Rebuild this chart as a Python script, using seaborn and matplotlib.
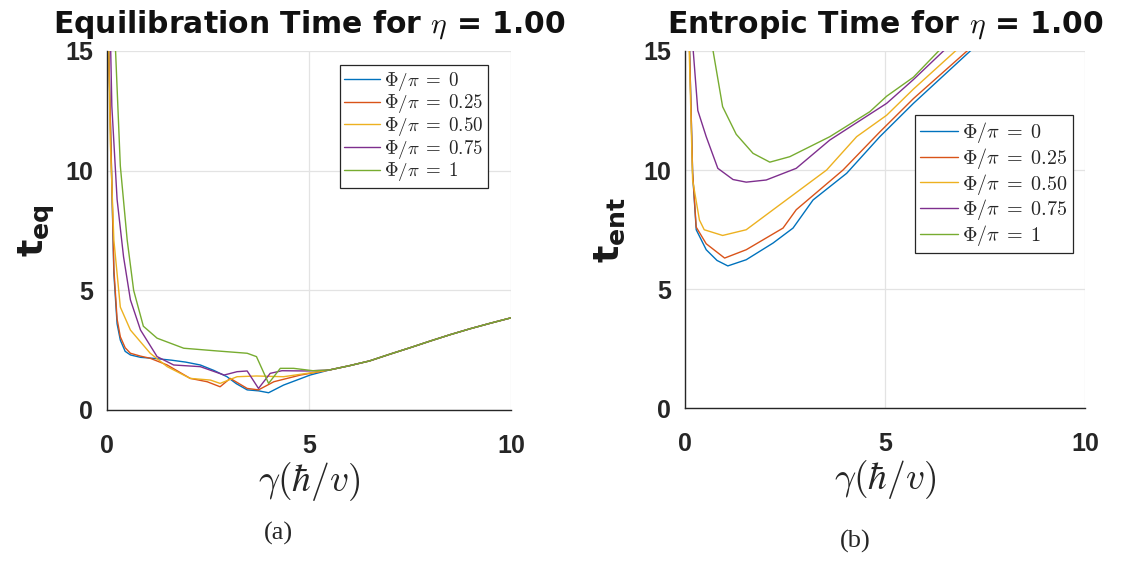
import numpy as np
import pandas as pd
import matplotlib
matplotlib.use("Agg")
import matplotlib.pyplot as plt
import seaborn as sns
from matplotlib.font_manager import FontProperties

# ---------------- data ----------------
labels = [r"$\Phi/\pi\;=\;0$", r"$\Phi/\pi\;=\;0.25$", r"$\Phi/\pi\;=\;0.50$",
          r"$\Phi/\pi\;=\;0.75$", r"$\Phi/\pi\;=\;1$"]
colors = ["#0072BD", "#D95319", "#EDB120", "#7E2F8E", "#77AC30"]

tail_x = [5.5, 6.0, 6.5, 7.0, 7.5, 8.0, 8.5, 9.0, 9.5, 10.0]
tail_y = [1.67, 1.85, 2.05, 2.33, 2.6, 2.88, 3.15, 3.4, 3.63, 3.85]

# Equilibration time (panel a)
eq_x0 = [0.03, 0.17, 0.25, 0.33, 0.45, 0.58, 0.83, 1.2, 1.6, 1.95, 2.31, 2.65, 2.97, 3.2, 3.47, 3.75, 4.0, 4.37, 4.7, 5.03]
eq_y0 = [16.0, 5.7, 3.6, 2.92, 2.45, 2.3, 2.2, 2.15, 2.08, 2.0, 1.88, 1.65, 1.39, 1.1, 0.84, 0.8, 0.72, 1.04, 1.25, 1.46]
eq_x1 = [0.03, 0.17, 0.25, 0.33, 0.45, 0.58, 0.83, 1.07, 1.49, 2.06, 2.48, 2.8, 3.05, 3.47, 3.75, 4.13, 4.79]
eq_y1 = [16.0, 5.9, 3.8, 3.06, 2.6, 2.37, 2.25, 2.16, 1.88, 1.32, 1.18, 0.97, 1.32, 0.9, 0.84, 1.18, 1.46]
eq_x2 = [0.03, 0.08, 0.17, 0.33, 0.58, 1.07, 1.49, 2.06, 2.56, 2.8, 3.22, 3.7, 4.37, 4.95]
eq_y2 = [16.0, 11.3, 7.1, 4.3, 3.34, 2.37, 1.81, 1.32, 1.25, 1.11, 1.39, 1.42, 1.39, 1.53]
eq_x3 = [0.08, 0.12, 0.25, 0.41, 0.58, 0.83, 1.24, 1.65, 2.31, 2.9, 3.22, 3.47, 3.75, 4.04, 4.33, 4.95]
eq_y3 = [16.0, 12.7, 8.8, 6.4, 4.6, 3.34, 2.23, 1.88, 1.81, 1.46, 1.6, 1.63, 0.9, 1.53, 1.64, 1.63]
eq_x4 = [0.2, 0.33, 0.5, 0.66, 0.9, 1.24, 1.9, 2.7, 3.47, 3.7, 4.0, 4.29, 4.62, 5.1]
eq_y4 = [15.5, 10.2, 7.1, 5.0, 3.5, 3.0, 2.58, 2.47, 2.37, 2.23, 1.11, 1.74, 1.74, 1.64]

# Entropic time (panel b)
en_x0 = [0.1, 0.19, 0.28, 0.53, 0.8, 1.07, 1.53, 2.2, 2.7, 3.2, 4.04, 4.87, 5.71, 7.13, 7.6]
en_y0 = [16.0, 9.86, 7.49, 6.65, 6.2, 5.97, 6.23, 6.93, 7.56, 8.74, 9.86, 11.4, 12.8, 15.0, 15.6]
en_x1 = [0.1, 0.19, 0.28, 0.53, 0.99, 1.53, 2.45, 2.78, 3.95, 4.87, 5.71, 7.05, 7.6]
en_y1 = [16.0, 9.9, 7.6, 6.9, 6.3, 6.65, 7.56, 8.33, 10.0, 11.6, 13.0, 15.0, 15.7]
en_x2 = [0.09, 0.19, 0.36, 0.48, 0.94, 1.53, 2.37, 3.54, 4.29, 5.04, 5.71, 6.76, 7.2]
en_y2 = [16.0, 9.58, 7.9, 7.49, 7.25, 7.49, 8.54, 10.0, 11.4, 12.3, 13.4, 15.0, 15.6]
en_x3 = [0.16, 0.32, 0.53, 0.82, 1.2, 1.53, 2.03, 2.78, 3.62, 5.04, 5.71, 6.46, 6.9]
en_y3 = [16.0, 12.5, 11.4, 10.07, 9.6, 9.49, 9.58, 10.07, 11.26, 12.8, 13.8, 15.0, 15.6]
en_x4 = [0.6, 0.94, 1.28, 1.7, 2.12, 2.62, 3.62, 4.62, 5.04, 5.71, 6.34, 6.8]
en_y4 = [16.0, 12.66, 11.5, 10.7, 10.33, 10.56, 11.4, 12.45, 13.1, 13.9, 15.0, 15.6]

x_ticks = [0, 5, 10]
y_ticks = [0, 5, 10, 15]


def build(xs, ys, with_tail):
    rows = []
    for lab, x, y in zip(labels, xs, ys):
        xx = list(x) + (tail_x if with_tail else [])
        yy = list(y) + (tail_y if with_tail else [])
        for a, b in zip(xx, yy):
            rows.append({"x": a, "y": b, "series": lab})
    return pd.DataFrame(rows)


df_eq = build([eq_x0, eq_x1, eq_x2, eq_x3, eq_x4], [eq_y0, eq_y1, eq_y2, eq_y3, eq_y4], True)
df_en = build([en_x0, en_x1, en_x2, en_x3, en_x4], [en_y0, en_y1, en_y2, en_y3, en_y4], False)

# ---------------- plot ----------------
sns.set_theme(style="white")
plt.rcParams["font.family"] = ["Liberation Sans", "DejaVu Sans"]

fig = plt.figure(figsize=(11.25, 5.61), dpi=100)
ax1 = fig.add_axes([0.0951, 0.2692, 0.3591, 0.6399])
ax2 = fig.add_axes([0.6089, 0.2727, 0.3556, 0.6364])

xl_prop = FontProperties(size=27, math_fontfamily="cm")


def style(ax, title, ylab, ylabpad, leg_anchor, leg_size, leg_space, axh_px):
    ax.set_xlim(0, 10)
    ax.set_ylim(0, 15)
    ax.set_xticks(x_ticks)
    ax.set_yticks(y_ticks)
    ax.grid(True, color="#e3e3e3", linewidth=0.9)
    ax.set_axisbelow(True)
    for s in ["top", "right"]:
        ax.spines[s].set_visible(False)
    for s in ["left", "bottom"]:
        ax.spines[s].set_color("#262626")
        ax.spines[s].set_linewidth(1.0)
    ax.tick_params(direction="in", length=4, width=0.8, color="#262626",
                   labelsize=18)
    ax.tick_params(axis="y", pad=10)
    ax.tick_params(axis="x", pad=17)
    for t in ax.get_xticklabels() + ax.get_yticklabels():
        t.set_fontweight("bold")
        t.set_color("#262626")
    ax.set_xlabel(r"$\gamma(\hbar/v)$", fontproperties=xl_prop, labelpad=2)
    ax.set_ylabel(ylab, fontsize=26, fontweight="bold", labelpad=ylabpad,
                  math_fontfamily="dejavusans", color="#1a1a1a")
    ax.text(0.5, 1 + 18 / axh_px, title, transform=ax.transAxes, ha="center",
            va="baseline", fontsize=21.5, fontweight="bold", family="DejaVu Sans",
            math_fontfamily="cm", color="#111111")
    h, l = ax.get_legend_handles_labels()
    prop = FontProperties(family="DejaVu Serif", size=leg_size, math_fontfamily="cm")
    ax.legend(h, l, loc="upper right", bbox_to_anchor=leg_anchor, prop=prop,
              frameon=True, fancybox=False, edgecolor="#262626",
              handlelength=1.9, handletextpad=0.2, labelspacing=leg_space,
              borderpad=0.25, borderaxespad=0.0, framealpha=1)
    ax.get_legend().get_frame().set_linewidth(0.9)


sns.lineplot(data=df_eq, x="x", y="y", hue="series", palette=colors,
             estimator=None, sort=False, linewidth=1.0, ax=ax1)
sns.lineplot(data=df_en, x="x", y="y", hue="series", palette=colors,
             estimator=None, sort=False, linewidth=1.0, ax=ax2)

style(ax1, r"Equilibration Time for $\eta$ = 1.00", r"$\mathbf{t_{eq}}$", 6,
      (0.943, 0.961), 13.6, -0.02, 359)
style(ax2, r"Entropic Time for $\eta$ = 1.00", r"$\mathbf{t_{ent}}$", 12,
      (0.97, 0.821), 14.5, 0.04, 357)

fig.text(278 / 1125, 1 - 533 / 561, "(a)", ha="center", va="center",
         fontsize=19, family="Liberation Serif")
fig.text(855 / 1125, 1 - 541 / 561, "(b)", ha="center", va="center",
         fontsize=19, family="Liberation Serif")

fig.savefig("out.png", dpi=100)
